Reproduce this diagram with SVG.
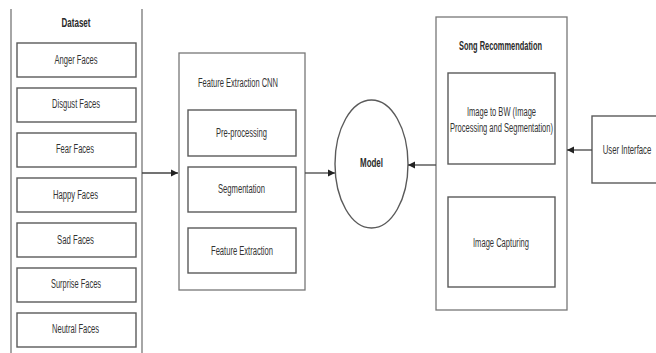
<svg xmlns="http://www.w3.org/2000/svg" width="656" height="353" viewBox="0 0 656 353">
<style>
.box{fill:#fff;stroke:#5a5a5a;stroke-width:1.4}
.outer{fill:#fff;stroke:#777;stroke-width:1.3}
.t{font-family:"Liberation Sans",Arial,sans-serif;font-size:12.5px;fill:#333;text-anchor:middle;dominant-baseline:central}
.b{font-weight:bold;fill:#2a2a2a}
.c{stroke:#444;stroke-width:1.3;fill:none}
</style>
<defs>
<marker id="ah" markerWidth="8" markerHeight="8" refX="7" refY="4" orient="auto" markerUnits="userSpaceOnUse">
<path d="M0,0.5 L7,4 L0,7.5 Z" fill="#222"/>
</marker>
</defs>
<rect width="656" height="353" fill="#fff"/>
<g id="dataset">
<rect class="outer" x="11" y="-5" width="131" height="365"/>
<rect x="0" y="0" width="656" height="9" fill="#fff"/>
<text class="t b" x="76" y="23" textLength="29" lengthAdjust="spacingAndGlyphs">Dataset</text>
</g>
<g id="anger"><rect class="box" x="17" y="43" width="119" height="34"/><text class="t" x="76" y="60" textLength="43" lengthAdjust="spacingAndGlyphs">Anger Faces</text></g>
<g id="disgust"><rect class="box" x="17" y="88" width="119" height="34"/><text class="t" x="76" y="104" textLength="48" lengthAdjust="spacingAndGlyphs">Disgust Faces</text></g>
<g id="fear"><rect class="box" x="17" y="133" width="119" height="34"/><text class="t" x="75" y="149" textLength="38" lengthAdjust="spacingAndGlyphs">Fear Faces</text></g>
<g id="happy"><rect class="box" x="17" y="178" width="119" height="34"/><text class="t" x="75.5" y="195" textLength="45" lengthAdjust="spacingAndGlyphs">Happy Faces</text></g>
<g id="sad"><rect class="box" x="17" y="223" width="119" height="34"/><text class="t" x="75.5" y="240" textLength="37" lengthAdjust="spacingAndGlyphs">Sad Faces</text></g>
<g id="surprise"><rect class="box" x="17" y="268" width="119" height="34"/><text class="t" x="76" y="284" textLength="50" lengthAdjust="spacingAndGlyphs">Surprise Faces</text></g>
<g id="neutral"><rect class="box" x="17" y="313" width="119" height="34"/><text class="t" x="75.5" y="329" textLength="47" lengthAdjust="spacingAndGlyphs">Neutral Faces</text></g>
<g id="cnn">
<rect class="outer" x="179" y="53" width="126" height="237"/>
<text class="t" x="238" y="83" textLength="80" lengthAdjust="spacingAndGlyphs">Feature Extraction CNN</text>
</g>
<g id="preprocessing"><rect class="box" x="188" y="110" width="108" height="46"/><text class="t" x="241.5" y="133" textLength="51" lengthAdjust="spacingAndGlyphs">Pre-processing</text></g>
<g id="segmentation"><rect class="box" x="188" y="167" width="108" height="45"/><text class="t" x="241.5" y="189" textLength="47" lengthAdjust="spacingAndGlyphs">Segmentation</text></g>
<g id="featureextraction"><rect class="box" x="188" y="228" width="108" height="45"/><text class="t" x="242" y="251" textLength="62" lengthAdjust="spacingAndGlyphs">Feature Extraction</text></g>
<g id="model">
<ellipse class="box" cx="371.5" cy="164" rx="36.5" ry="64"/>
<text class="t b" x="371.5" y="163" textLength="23" lengthAdjust="spacingAndGlyphs">Model</text>
</g>
<g id="songrec">
<rect class="outer" x="436" y="17" width="131" height="293"/>
<text class="t b" x="500.5" y="46" textLength="83" lengthAdjust="spacingAndGlyphs">Song Recommendation</text>
</g>
<g id="imagebw"><rect class="box" x="448" y="73" width="107" height="91"/>
<text class="t" x="501.5" y="112" textLength="69" lengthAdjust="spacingAndGlyphs">Image to BW (Image</text>
<text class="t" x="501.5" y="128" textLength="103" lengthAdjust="spacingAndGlyphs">Processing and Segmentation)</text></g>
<g id="imagecapturing"><rect class="box" x="448" y="197" width="107" height="90"/><text class="t" x="501" y="243" textLength="56" lengthAdjust="spacingAndGlyphs">Image Capturing</text></g>
<g id="userinterface"><rect class="box" x="592" y="116" width="70" height="67"/><text class="t" transform="translate(627,150) scale(0.62,1)" x="0" y="0">User Interface</text></g>
<g id="connectors">
<line class="c" x1="142" y1="173" x2="178" y2="173" marker-end="url(#ah)"/>
<line class="c" x1="305" y1="173" x2="335" y2="173" marker-end="url(#ah)"/>
<line class="c" x1="436" y1="165" x2="408" y2="165" marker-end="url(#ah)"/>
<line class="c" x1="592" y1="150" x2="567" y2="150" marker-end="url(#ah)"/>
</g>
</svg>
